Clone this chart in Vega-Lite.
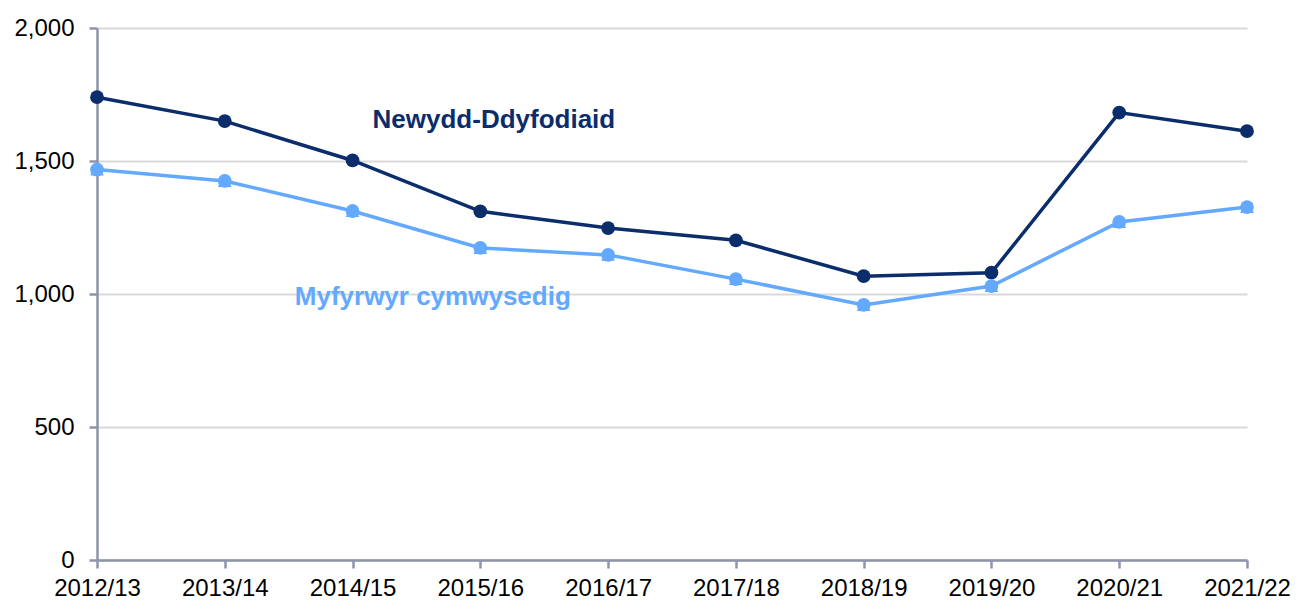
{
  "$schema": "https://vega.github.io/schema/vega-lite/v6.json",
  "width": 1150,
  "height": 532,
  "autosize": {"type": "none"},
  "padding": {"left": 97, "top": 28, "right": 52, "bottom": 41},
  "background": "white",
  "config": {
    "view": {"stroke": null},
    "font": "Liberation Sans"
  },
  "datasets": {
    "series": [
      {"year": "2012/13", "series": "Newydd-Ddyfodiaid", "value": 1740},
      {"year": "2013/14", "series": "Newydd-Ddyfodiaid", "value": 1650},
      {"year": "2014/15", "series": "Newydd-Ddyfodiaid", "value": 1502},
      {"year": "2015/16", "series": "Newydd-Ddyfodiaid", "value": 1311},
      {"year": "2016/17", "series": "Newydd-Ddyfodiaid", "value": 1248},
      {"year": "2017/18", "series": "Newydd-Ddyfodiaid", "value": 1202},
      {"year": "2018/19", "series": "Newydd-Ddyfodiaid", "value": 1067},
      {"year": "2019/20", "series": "Newydd-Ddyfodiaid", "value": 1080},
      {"year": "2020/21", "series": "Newydd-Ddyfodiaid", "value": 1682},
      {"year": "2021/22", "series": "Newydd-Ddyfodiaid", "value": 1612},
      {"year": "2012/13", "series": "Myfyrwyr cymwysedig", "value": 1468},
      {"year": "2013/14", "series": "Myfyrwyr cymwysedig", "value": 1425},
      {"year": "2014/15", "series": "Myfyrwyr cymwysedig", "value": 1312},
      {"year": "2015/16", "series": "Myfyrwyr cymwysedig", "value": 1173},
      {"year": "2016/17", "series": "Myfyrwyr cymwysedig", "value": 1147},
      {"year": "2017/18", "series": "Myfyrwyr cymwysedig", "value": 1056},
      {"year": "2018/19", "series": "Myfyrwyr cymwysedig", "value": 959},
      {"year": "2019/20", "series": "Myfyrwyr cymwysedig", "value": 1030},
      {"year": "2020/21", "series": "Myfyrwyr cymwysedig", "value": 1271},
      {"year": "2021/22", "series": "Myfyrwyr cymwysedig", "value": 1327}
    ],
    "labels": [
      {"year": "2014/15", "series": "Newydd-Ddyfodiaid", "value": 1654, "label": "Newydd-Ddyfodiaid"},
      {"year": "2013/14", "series": "Myfyrwyr cymwysedig", "value": 989, "label": "Myfyrwyr  cymwysedig"}
    ]
  },
  "layer": [
    {
      "data": {"name": "series"},
      "mark": {"type": "line", "strokeWidth": 3.5},
      "encoding": {
        "x": {
          "field": "year", "type": "ordinal",
          "scale": {"type": "point", "padding": 0},
          "axis": {
            "title": null, "labelAngle": 0, "labelFontSize": 24, "labelColor": "#000000",
            "labelPadding": 8, "labelOverlap": false, "labelBound": false,
            "domainColor": "#8E94AB", "domainWidth": 2.5, "tickColor": "#8E94AB",
            "tickWidth": 2.5, "tickSize": 8, "grid": false
          }
        },
        "y": {
          "field": "value", "type": "quantitative",
          "scale": {"domain": [0, 2000]},
          "axis": {
            "title": null, "values": [0, 500, 1000, 1500, 2000], "format": ",.0f",
            "labelFontSize": 24, "labelColor": "#000000", "labelPadding": 15,
            "domainColor": "#8E94AB", "domainWidth": 2.5, "tickColor": "#8E94AB",
            "tickWidth": 2.5, "tickSize": 8, "grid": true, "gridColor": "#D9D9D9", "gridWidth": 2
          }
        },
        "color": {
          "field": "series", "type": "nominal",
          "scale": {"domain": ["Newydd-Ddyfodiaid", "Myfyrwyr cymwysedig"], "range": ["#0B2D6B", "#62A9FF"]},
          "legend": null
        }
      }
    },
    {
      "data": {"name": "series"},
      "transform": [{"filter": "datum.series === 'Myfyrwyr cymwysedig'"}],
      "mark": {"type": "point", "shape": "triangle-up", "filled": true, "size": 190, "opacity": 1, "color": "#62A9FF"},
      "encoding": {
        "x": {"field": "year", "type": "ordinal"},
        "y": {"field": "value", "type": "quantitative"}
      }
    },
    {
      "data": {"name": "series"},
      "mark": {"type": "circle", "size": 190, "opacity": 1},
      "encoding": {
        "x": {"field": "year", "type": "ordinal"},
        "y": {"field": "value", "type": "quantitative"},
        "color": {"field": "series", "type": "nominal", "legend": null}
      }
    },
    {
      "data": {"name": "labels"},
      "transform": [{"filter": "datum.series === 'Newydd-Ddyfodiaid'"}],
      "mark": {"type": "text", "fontSize": 26, "fontWeight": "bold", "align": "left", "baseline": "middle", "dx": 20},
      "encoding": {
        "x": {"field": "year", "type": "ordinal"},
        "y": {"field": "value", "type": "quantitative"},
        "text": {"field": "label"},
        "color": {"field": "series", "type": "nominal", "legend": null}
      }
    },
    {
      "data": {"name": "labels"},
      "transform": [{"filter": "datum.series === 'Myfyrwyr cymwysedig'"}],
      "mark": {"type": "text", "fontSize": 26, "fontWeight": "bold", "align": "left", "baseline": "middle", "dx": 70},
      "encoding": {
        "x": {"field": "year", "type": "ordinal"},
        "y": {"field": "value", "type": "quantitative"},
        "text": {"field": "label"},
        "color": {"field": "series", "type": "nominal", "legend": null}
      }
    }
  ]
}
